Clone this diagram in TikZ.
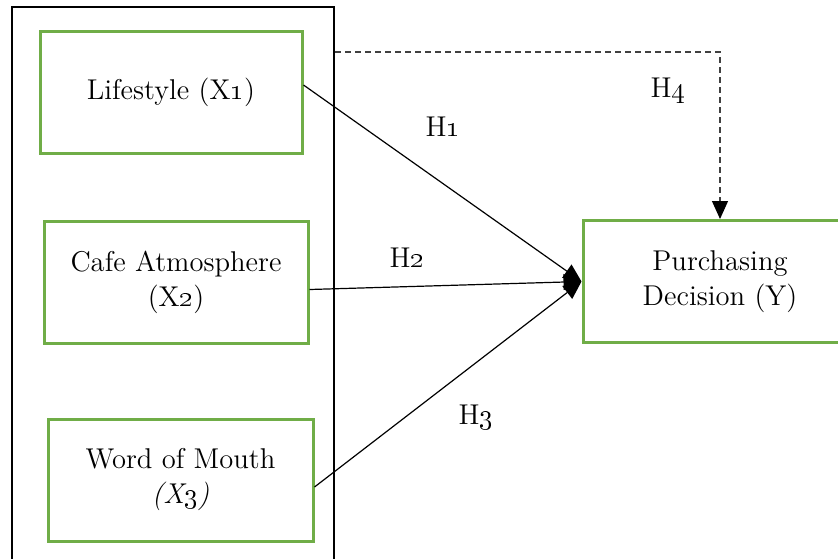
\documentclass[tikz,border=0pt]{standalone}
\usetikzlibrary{arrows.meta, positioning}
\usepackage{xcolor}
\definecolor{boxgreen}{HTML}{70AD47}

\begin{document}
\begin{tikzpicture}[
x=0.5pt, y=-0.5pt,
>={Triangle[length=9pt,width=8pt,color=black]},
every node/.style={font=\fontsize{14.3}{17.5}\selectfont, align=center},
var/.style={draw=boxgreen, line width=1.5pt, minimum width=131pt, minimum height=61pt},
hyp/.style={->, line width=0.6pt},
]
\useasboundingbox (0,0) rectangle (838,558);
%% independent variables
% nodes
\node[draw, line width=1.1pt, minimum width=161pt, minimum height=282pt] (grp) at (173,289) {};
\node[var] (X1) at (171,92) {Lifestyle (X\oldstylenums{1})};
\node[var, minimum width=132pt] (X2) at (176,282.5) {Cafe Atmosphere\\(X\oldstylenums{2})};
\node[var, minimum width=132.5pt] (X3) at (180.5,480) {Word of Mouth\\\textit{(X\oldstylenums{3})}};

%% dependent variable
\node[var, minimum width=137pt] (Y) at (720,281.5) {Purchasing\\Decision (Y)};

% arrows
\draw[hyp] ([yshift=3.5pt]X1.east) -- (Y.west);
\draw[hyp] ([yshift=-3.5pt]X2.east) -- (Y.west);
\draw[hyp] ([yshift=-3.5pt]X3.east) -- (Y.west);
\coordinate (h4s) at (grp.east |- 0,52);
\draw[hyp, black!75, dash pattern=on 3pt off 2pt] (h4s) -| (Y.north);

% labels
\node (h1) at (443,127) {H\oldstylenums{1}};
\node (h2) at (407,258) {H\oldstylenums{2}};
\node (h3) at (476,418) {H\oldstylenums{3}};
\node (h4) at (668,91) {H\oldstylenums{4}};
\end{tikzpicture}
\end{document}
